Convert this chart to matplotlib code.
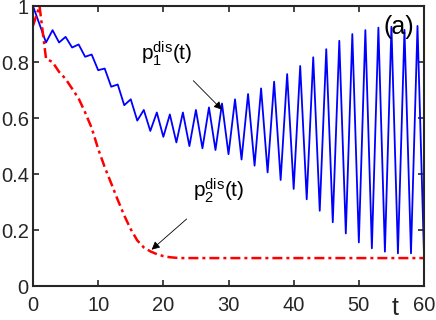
import numpy as np
from matplotlib import pyplot as plt

plt.rcParams['font.family'] = ['Liberation Sans', 'DejaVu Sans']
plt.rcParams['mathtext.fontset'] = 'custom'
plt.rcParams['mathtext.rm'] = 'Liberation Sans'
plt.rcParams['mathtext.it'] = 'Liberation Sans'

# Data
t = np.arange(0, 61)
p1 = [1.0, 0.935, 0.87, 0.914, 0.87, 0.89, 0.852, 0.863, 0.819, 0.827,
      0.771, 0.777, 0.712, 0.72, 0.646, 0.667, 0.591, 0.629, 0.554, 0.62,
      0.533, 0.613, 0.513, 0.62, 0.5, 0.629, 0.492, 0.638, 0.486, 0.652,
      0.471, 0.667, 0.452, 0.686, 0.43, 0.706, 0.406, 0.73, 0.379, 0.757,
      0.347, 0.786, 0.31, 0.817, 0.269, 0.846, 0.228, 0.876, 0.188, 0.9,
      0.156, 0.914, 0.135, 0.923, 0.123, 0.926, 0.117, 0.915, 0.117, 0.929,
      0.11]
p2 = [0.93, 1.0, 0.812, 0.80, 0.765, 0.74, 0.705, 0.67, 0.62, 0.565,
      0.49, 0.425, 0.367, 0.308, 0.252, 0.203, 0.163, 0.138, 0.124, 0.114,
      0.107, 0.103, 0.101] + [0.1] * 38

xticks = [0, 10, 20, 30, 40, 50, 60]
xticklabels = ['0', '10', '20', '30', '40', '50', '60']
yticks = [0, 0.2, 0.4, 0.6, 0.8, 1]
yticklabels = ['0', '0.2', '0.4', '0.6', '0.8', '1']

fig = plt.figure(figsize=(4.36, 3.2), dpi=100)
ax = fig.add_axes([0.0757, 0.106, 0.8968, 0.875])

ax.plot(t, p1, color='#0000ff', lw=1.3)
ax.plot(t, p2, color='#ff0000', lw=1.8, linestyle=(0, (4, 1.6, 1.2, 1.6)))

ax.set_xlim(0, 60)
ax.set_ylim(0, 1)
ax.set_xticks(xticks)
ax.set_xticklabels(xticklabels)
ax.set_yticks(yticks)
ax.set_yticklabels(yticklabels)

for s in ax.spines.values():
    s.set_linewidth(1.5)
    s.set_color('#262626')
ax.tick_params(direction='in', length=4, width=1.2, top=True, right=True,
               labelsize=14.5, colors='#262626')
ax.tick_params(axis='x', pad=7)
ax.tick_params(axis='y', pad=3)

ax.text(55.5, -0.035, 't', ha='center', va='top', fontsize=18, color='#262626')

ax.text(58.5, 0.925, '(a)', ha='right', va='center', fontsize=18)

ax.annotate(r'$\mathregular{p_1^{dis}(t)}$', xy=(29, 0.63), xytext=(20.5, 0.83),
            fontsize=15, ha='center', va='center',
            arrowprops=dict(arrowstyle='-|>', color='black', lw=0.6,
                            mutation_scale=12, shrinkA=10, shrinkB=0))
ax.annotate(r'$\mathregular{p_2^{dis}(t)}$', xy=(18.2, 0.13), xytext=(28.5, 0.34),
            fontsize=15, ha='center', va='center',
            arrowprops=dict(arrowstyle='-|>', color='black', lw=0.6,
                            mutation_scale=12, shrinkA=12, shrinkB=0))

plt.savefig('out.png', dpi=100)
